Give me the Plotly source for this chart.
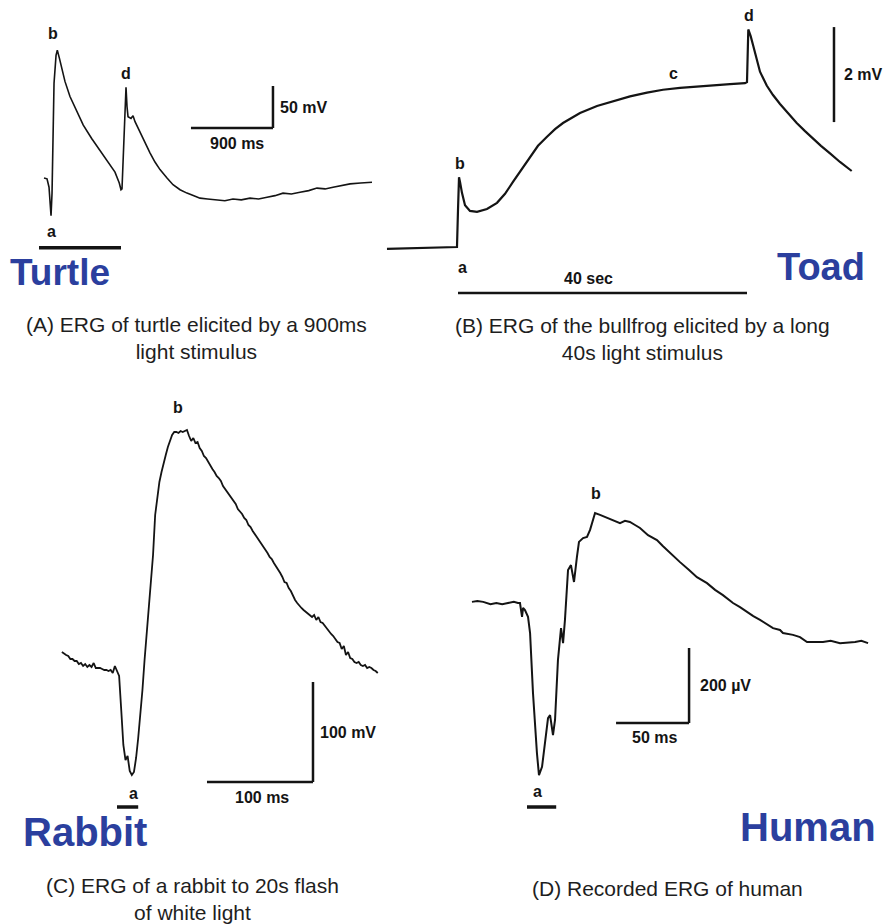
import numpy as np
import plotly.graph_objects as go

# ---------------------------------------------------------------------------
# Recorded ERG traces (time, potential)
# ---------------------------------------------------------------------------
# (A) Turtle, 900 ms stimulus — time in ms, potential in mV
turtle_t = [55, 88, 110, 121, 132, 143, 154, 165, 187, 201,
            223, 249, 285, 340, 414, 486, 578, 670, 761, 834,
            881, 900, 911, 922, 933, 955, 966, 977, 1010, 1032,
            1054, 1109, 1163, 1218, 1273, 1328, 1405, 1471, 1548, 1624,
            1700, 1767, 1850, 1954, 2040, 2129, 2220, 2316, 2410, 2503,
            2590, 2678, 2770, 2865, 2960, 3051, 3140, 3227, 3320, 3414,
            3530, 3655]
turtle_v = [0, -1, -11, -26, -45, -18, 54, 113, 146, 152,
            143, 131, 115, 97, 79, 63, 47, 33, 19, 7,
            -6, -14, -13, 13, 54, 108, 85, 73, 71, 74,
            67, 54, 42, 30, 19, 10, 0, -8, -14, -18,
            -21, -24, -25, -26, -27, -25, -26, -24, -25, -23,
            -21, -18, -19, -17, -15, -12, -13, -11, -9, -7,
            -6, -5]

# (B) Toad / bullfrog, 40 s stimulus — time in s, potential in mV
toad_t = [-9.83, -5.26, -0.14, 0.0, 0.14, 0.28, 0.55, 0.97, 1.66, 2.63,
          4.01, 5.40, 6.51, 7.61, 8.72, 9.97, 11.07, 12.32, 13.43, 14.53,
          15.78, 16.89, 19.24, 21.45, 23.81, 26.16, 28.37, 30.73, 33.08, 35.29,
          37.65, 39.72, 40.00, 40.18, 40.51, 40.87, 41.34, 41.80, 42.73, 43.60,
          44.57, 45.67, 46.88, 48.03, 49.18, 50.24, 51.49, 52.87, 54.49]
toad_v = [-0.04, -0.02, 0.0, 0.78, 1.47, 1.37, 1.14, 0.88, 0.76, 0.74,
          0.80, 0.93, 1.12, 1.37, 1.62, 1.89, 2.13, 2.32, 2.48, 2.61,
          2.72, 2.82, 2.97, 3.07, 3.17, 3.25, 3.31, 3.35, 3.38, 3.41,
          3.43, 3.45, 3.47, 4.58, 4.44, 4.23, 3.98, 3.69, 3.40, 3.20,
          3.01, 2.81, 2.61, 2.44, 2.27, 2.13, 1.97, 1.79, 1.60]

# (C) Rabbit, 20 ms flash — sampled every 2 ms from -52 ms, potential in mV
rabbit_dt = 2.0
rabbit_t0 = -52.0
rabbit_v = [20, 18, 17, 16, 13, 13, 11, 11, 8, 9, 6, 8, 5, 7, 5, 9, 4, 4, 4, 3,
            2, 2, 1, 2, -1, 6, 0, -4, -38, -73, -88, -84, -99, -103, -100, -86,
            -66, -43, -18, 12, 37, 67, 94, 117, 157, 177, 190, 200, 210, 217,
            225, 232, 237, 240, 240, 239, 241, 240, 241, 242, 236, 231, 234, 229,
            230, 224, 221, 216, 214, 210, 207, 203, 200, 196, 194, 191, 186, 183,
            180, 177, 174, 171, 168, 163, 161, 158, 154, 152, 147, 145, 141, 138,
            135, 132, 128, 125, 123, 119, 115, 113, 109, 106, 103, 99, 95, 90,
            89, 84, 81, 76, 72, 69, 66, 64, 62, 60, 58, 56, 55, 57, 52, 55, 50,
            49, 46, 44, 40, 38, 36, 33, 30, 29, 23, 26, 17, 20, 14, 13, 10, 9,
            10, 7, 6, 7, 4, 5, 4, 2, 1, -1]
rabbit_t = list(rabbit_t0 + rabbit_dt * np.arange(len(rabbit_v)))

# (D) Human — time in ms, potential in µV
human_t = [-37.7, -34.0, -30.0, -27.0, -25.0, -21.0, -17.0, -13.0, -9.0, -6.2,
           -4.8, -3.4, -2.7, -1.4, 0.7, 2.1, 4.1, 6.8, 8.2, 10.3, 12.3, 14.4,
           15.8, 17.8, 19.2, 21.2, 23.3, 24.7, 26.0, 28.1, 30.1, 32.2, 34.2,
           35.6, 38.4, 41.1, 43.2, 46.6, 50.0, 54.8, 59.6, 63.7, 67.1, 70.5,
           74.0, 77.4, 82.9, 89.0, 93.0, 97.9, 104.8, 111.0, 116.4, 123.3,
           128.8, 134.2, 141.1, 145.9, 150.7, 155.0, 159.6, 164.0, 168.5,
           173.3, 175.3, 182.2, 187.0, 191.8, 202.7, 208.0, 214.4, 224.7,
           229.0, 233.6]
human_v = [3, 5, 3, 0, -3, 0, -3, 0, 3, 0,
           0, -37, -13, -19, -37, -80, -240, -400, -459, -437, -373, -307,
           -299, -352, -312, -152, -67, -107, -45, 88, 101, 56, 123,
           163, 173, 176, 195, 240, 235, 227, 219, 213, 219, 216,
           208, 200, 181, 168, 152, 133, 109, 88, 69, 53,
           35, 21, 0, -11, -24, -35, -45, -56, -67,
           -72, -80, -85, -91, -104, -104, -101, -107, -104,
           -101, -107]

# Stimulus durations and scale-bar sizes (in each panel's units)
turtle_stim, turtle_bar_t, turtle_bar_v = 900, 900, 50
toad_stim, toad_bar_v = 40, 2
rabbit_stim, rabbit_bar_t, rabbit_bar_v = 20, 100, 100
human_stim, human_bar_t, human_bar_v = 20, 50, 200

# ---------------------------------------------------------------------------
# Page geometry
# ---------------------------------------------------------------------------
W, H = 889, 924
INK = "#141414"
BLUE = "#2b3f9e"
FONT = "Liberation Sans, Arial, Helvetica, sans-serif"


def panel_axes(box, origin, scale):
    """box: (x0, y0, x1, y1) page pixels; origin: page pixel of (0, 0);
    scale: pixels per data unit (x, y)."""
    x0, y0, x1, y1 = box
    ox, oy = origin
    sx, sy = scale
    xa = dict(domain=[x0 / W, x1 / W], range=[(x0 - ox) / sx, (x1 - ox) / sx],
              visible=False, fixedrange=True)
    ya = dict(domain=[1 - y1 / H, 1 - y0 / H], range=[(oy - y1) / sy, (oy - y0) / sy],
              visible=False, fixedrange=True)
    return xa, ya


panels = {
    1: panel_axes((0, 0, 380, 300), (39, 178), (82 / 900, 42 / 50)),
    2: panel_axes((380, 0, 889, 300), (458, 247), (289 / 40, 95 / 2)),
    3: panel_axes((0, 380, 440, 870), (117, 672), (1.06, 1.0)),
    4: panel_axes((440, 380, 889, 870), (527, 603), (73 / 50, 75 / 200)),
}

fig = go.Figure()
traces = [(turtle_t, turtle_v, 1, 1.6), (toad_t, toad_v, 2, 2.2),
          (rabbit_t, rabbit_v, 3, 1.8), (human_t, human_v, 4, 2.0)]
for t, v, k, lw in traces:
    sfx = "" if k == 1 else str(k)
    fig.add_trace(go.Scatter(x=t, y=v, mode="lines", xaxis="x" + sfx, yaxis="y" + sfx,
                             line=dict(color=INK, width=lw), hoverinfo="skip",
                             showlegend=False))

layout = dict(width=W, height=H, autosize=False, margin=dict(l=0, r=0, t=0, b=0),
              paper_bgcolor="white", plot_bgcolor="rgba(0,0,0,0)", showlegend=False)
for k, (xa, ya) in panels.items():
    sfx = "" if k == 1 else str(k)
    layout["xaxis" + sfx] = dict(xa, anchor="y" + sfx)
    layout["yaxis" + sfx] = dict(ya, anchor="x" + sfx)
fig.update_layout(**layout)

shapes = []
annotations = []


def ref(k):
    sfx = "" if k == 1 else str(k)
    return "x" + sfx, "y" + sfx


def hbar(k, xa, xb, y, width=3):
    xr, yr = ref(k)
    shapes.append(dict(type="line", xref=xr, yref=yr, x0=xa, x1=xb, y0=y, y1=y,
                       line=dict(color=INK, width=width)))


def vbar(k, x, ya, yb, width=3):
    xr, yr = ref(k)
    shapes.append(dict(type="line", xref=xr, yref=yr, x0=x, x1=x, y0=ya, y1=yb,
                       line=dict(color=INK, width=width)))


def label(k, x, y, text, xshift=0, yshift=0, xanchor="center", size=16):
    xr, yr = ref(k)
    annotations.append(dict(xref=xr, yref=yr, x=x, y=y, text="<b>" + text + "</b>",
                            showarrow=False, xanchor=xanchor, yanchor="middle",
                            xshift=xshift, yshift=yshift,
                            font=dict(family=FONT, size=size, color=INK)))


def page_text(x, y, text, size, color, bold=False):
    annotations.append(dict(xref="paper", yref="paper", x=x / W, y=1 - y / H,
                            text=("<b>%s</b>" % text) if bold else text,
                            showarrow=False, xanchor="center", yanchor="middle",
                            align="center",
                            font=dict(family=FONT, size=size, color=color)))


# ---- (A) Turtle ----
ta, va = np.array(turtle_t), np.array(turtle_v)
ib = int(np.argmax(va))
ia = int(np.argmin(va[:10]))
idd = 20 + int(np.argmax(va[20:32]))
label(1, ta[ib], va[ib], "b", xshift=-4, yshift=17)
label(1, ta[idd], va[idd], "d", yshift=14)
label(1, ta[ia], va[ia], "a", yshift=-16)
hbar(1, 0, turtle_stim, -83, width=3.5)
hbar(1, 2568 - turtle_bar_t, 2568, 59.5, width=2.5)
vbar(1, 2568, 59.5, 59.5 + turtle_bar_v, width=2.5)
label(1, 2568, 59.5 + turtle_bar_v / 2, "50 mV", xshift=5, xanchor="left", size=16)
label(1, 2568 - turtle_bar_t / 2, 59.5, "900 ms", xshift=5, yshift=-15, size=16)

# ---- (B) Toad ----
tb, vb = np.array(toad_t), np.array(toad_v)
ibb = int(np.argmax(vb[:10]))
idb = int(np.argmax(vb))
label(2, tb[ibb], vb[ibb], "b", xshift=1, yshift=14)
label(2, 0, 0, "a", xshift=4, yshift=-20)
label(2, 29.8, float(np.interp(29.8, tb, vb)), "c", yshift=15)
label(2, tb[idb], vb[idb], "d", xshift=1, yshift=14)
hbar(2, 0, toad_stim, -0.97, width=2.5)
label(2, toad_stim / 2, -0.97, "40 sec", xshift=-14, yshift=15, size=16)
vbar(2, 52.04, 2.63, 2.63 + toad_bar_v, width=2.5)
label(2, 52.04, 2.63 + toad_bar_v / 2, "2 mV", xshift=8, xanchor="left", size=16)

# ---- (C) Rabbit ----
tc, vc = np.array(rabbit_t), np.array(rabbit_v)
ibc = int(np.argmax(vc))
iac = int(np.argmin(vc))
label(3, tc[ibc], vc[ibc], "b", xshift=-9, yshift=22)
label(3, tc[iac], vc[iac], "a", xshift=2, yshift=-18)
hbar(3, 0, rabbit_stim, -135, width=3.5)
hbar(3, 184.9 - rabbit_bar_t, 184.9, -110, width=2.5)
vbar(3, 184.9, -110, -110 + rabbit_bar_v, width=2.5)
label(3, 184.9, -110 + rabbit_bar_v / 2, "100 mV", xshift=5, xanchor="left", size=16)
label(3, 184.9 - rabbit_bar_t / 2, -110, "100 ms", xshift=2, yshift=-15, size=16)

# ---- (D) Human ----
td, vd = np.array(human_t), np.array(human_v)
ibd = int(np.argmax(vd))
iad = int(np.argmin(vd))
label(4, td[ibd], vd[ibd], "b", xshift=1, yshift=20)
label(4, td[iad], vd[iad], "a", xshift=-1, yshift=-16)
hbar(4, 0, human_stim, -544, width=3.5)
hbar(4, 111 - human_bar_t, 111, -320, width=2.5)
vbar(4, 111, -320, -320 + human_bar_v, width=2.5)
label(4, 111, -320 + human_bar_v / 2, "200 µV", xshift=9, xanchor="left", size=16)
label(4, 111 - human_bar_t / 2, -320, "50 ms", xshift=2, yshift=-14, size=16)

# ---- species names ----
page_text(60, 272, "Turtle", 37, BLUE, bold=True)
page_text(821, 267, "Toad", 38, BLUE, bold=True)
page_text(85, 832, "Rabbit", 40, BLUE, bold=True)
page_text(808, 827, "Human", 40, BLUE, bold=True)

# ---- captions ----
CAP = "#1e1e1e"
page_text(196, 338, "(A) ERG of turtle elicited by a 900ms<br>light stimulus", 21, CAP)
page_text(642, 339, "(B) ERG of the bullfrog elicited by a long<br>40s light stimulus", 21, CAP)
page_text(192, 899, "(C) ERG of a rabbit to 20s flash<br>of white light", 21, CAP)
page_text(667, 888, "(D) Recorded ERG of human", 21, CAP)

fig.update_layout(shapes=shapes, annotations=annotations)
fig.write_html("out.html")
